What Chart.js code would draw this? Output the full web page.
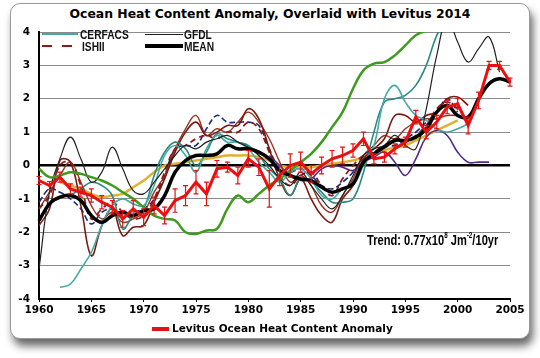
<!DOCTYPE html>
<html>
<head>
<meta charset="utf-8">
<script src="https://cdn.jsdelivr.net/npm/chart.js@4.4.0/dist/chart.umd.min.js"></script>
<style>
  html, body { margin: 0; padding: 0; background: #fff; }
  #wrap { position: relative; width: 540px; height: 358px; overflow: hidden; }
  #frame {
    position: absolute; left: 10px; top: 3px; width: 518px; height: 334px;
    background: #fff; border: 1px solid #9a9a9a; border-radius: 10px;
    box-shadow: 3px 7px 9px rgba(0,0,0,0.6);
  }
  #chart { position: absolute; left: 0; top: 0; }
  .title {
    position: absolute; left: 0; width: 540px; top: 6px; text-align: center;
    font: bold 12.4px "DejaVu Sans", sans-serif; color: #000;
  }
  .lg { position: absolute; font: bold 12px "Liberation Sans", Arial, sans-serif;
        transform: scaleX(0.85); transform-origin: left top; color: #111; line-height: 12px; }
  .sw { position: absolute; }
  .trend { position: absolute; left: 367px; top: 230px; white-space: nowrap;
           font: bold 15px "Liberation Sans", Arial, sans-serif; transform: scaleX(0.74);
           transform-origin: left top; color: #000; }
  .trend sup { font-size: 8.5px; vertical-align: 7px; }
  .bottom { position: absolute; left: 172px; top: 322px;
            font: bold 10.5px "DejaVu Sans", sans-serif; color: #000; }
</style>
</head>
<body>
<div id="wrap">
  <div id="frame"></div>
  <div class="title">Ocean Heat Content Anomaly, Overlaid with Levitus 2014</div>
  <canvas id="chart" width="540" height="358"></canvas>

  <div class="sw" style="left:42px;top:33px;width:36px;height:2px;background:#45aaa3"></div>
  <div class="lg" style="left:80px;top:29px">CERFACS</div>
  <div class="sw" style="left:145px;top:34px;width:38px;height:1px;background:#222"></div>
  <div class="lg" style="left:184px;top:29px">GFDL</div>
  <div class="sw" style="left:42px;top:45px;width:10px;height:2px;background:#8b1a1a"></div>
  <div class="sw" style="left:62px;top:45px;width:10px;height:2px;background:#8b1a1a"></div>
  <div class="lg" style="left:82px;top:41px">ISHII</div>
  <div class="sw" style="left:145px;top:44px;width:38px;height:4px;background:#000"></div>
  <div class="lg" style="left:184px;top:41px">MEAN</div>

  <div class="trend">Trend: 0.77x10<sup>8</sup> Jm<sup>-2</sup>/10yr</div>

  <div class="sw" style="left:152px;top:327px;width:17px;height:4px;background:#e81010"></div>
  <div class="bottom">Levitus Ocean Heat Content Anomaly</div>
</div>

<script>
const years = [1960,1961,1962,1963,1964,1965,1966,1967,1968,1969,
               1970,1971,1972,1973,1974,1975,1976,1977,1978,1979,
               1980,1981,1982,1983,1984,1985,1986,1987,1988,1989,
               1990,1991,1992,1993,1994,1995,1996,1997,1998,1999,
               2000,2001,2002,2003,2004,2005];

const yTicks = [-4,-3,-2,-1,0,1,2,3,4];

const levitus = [-0.45,-0.6,-0.35,-0.7,-0.8,-0.9,-1.1,-1.25,-1.6,-1.3,
                 -1.55,-1.2,-1.5,-1.05,-0.9,-0.5,-0.85,-0.1,-0.05,-0.3,
                 0.2,-0.05,-0.7,-0.3,0.0,0.1,-0.25,0.0,0.2,0.3,
                 0.45,0.8,0.2,0.25,0.5,0.7,1.45,1.0,1.3,1.75,
                 1.85,1.2,1.95,3.0,3.0,2.5];
const levitusErr = [0.12,0.12,0.15,0.15,0.15,0.2,0.2,0.2,0.25,0.25,
                    0.25,0.25,0.25,0.35,0.3,0.35,0.35,0.25,0.15,0.25,
                    0.25,0.25,0.55,0.3,0.35,0.3,0.25,0.25,0.25,0.25,
                    0.2,0.2,0.15,0.15,0.15,0.15,0.2,0.2,0.2,0.2,
                    0.15,0.25,0.25,0.12,0.12,0.12];

const mean = [-1.65,-1.15,-0.95,-0.9,-1.05,-1.5,-1.7,-1.5,-1.4,-1.5,
              -1.35,-1.3,-0.9,-0.2,0.15,0.3,0.3,0.35,0.6,0.5,
              0.5,0.4,0.2,-0.15,-0.3,-0.4,-0.45,-0.65,-0.8,-0.7,
              -0.55,0.1,0.35,0.55,0.75,0.75,0.85,1.1,1.6,1.8,
              1.5,1.45,2.0,2.45,2.6,2.5];

const gfdl = [-3.1,-0.8,0.2,0.85,0.2,-0.5,-0.2,0.55,-0.1,-0.75,
              -0.85,-0.5,-0.1,0.3,0.6,0.5,0.7,0.8,0.9,0.7,
              0.55,0.3,0.0,-0.4,-0.6,-0.2,-0.6,-1.0,-1.3,-0.9,
              -0.3,0.3,0.5,0.6,0.9,0.6,0.5,1.7,3.3,4.4,
              3.7,3.1,3.5,3.85,2.8,null];

const cerfacs = [null,null,-3.65,-3.55,-3.1,-2.6,-1.8,-1.2,-1.0,-1.15,
                 -1.2,-0.6,0.3,0.6,0.3,-0.2,0.5,0.9,0.7,0.7,
                 0.5,0.1,-0.2,-0.5,-0.2,-0.1,-0.4,-0.9,-1.0,-0.7,
                 -0.6,0.0,0.6,2.0,2.4,1.9,1.5,1.35,1.1,1.0,
                 1.1,1.25,null,null,null,null];

const tealDark = [null,null,null,-0.9,-0.7,-0.5,-0.6,-0.9,-1.9,-1.5,
                  -1.3,-0.3,0.4,0.7,0.5,0.0,0.4,0.95,0.8,0.7,
                  0.6,0.3,-0.1,-0.4,-0.9,-0.4,-0.5,-0.8,-1.1,-1.1,
                  -1.0,-0.2,1.0,1.9,2.0,2.1,2.4,3.0,3.9,4.4,
                  null,null,null,null,null,null];

const ishii = [-1.3,-0.9,0.0,0.1,-0.6,-1.6,-1.3,-1.1,-1.4,-1.6,
               -1.5,-1.0,-0.2,0.5,0.6,0.8,0.9,0.8,1.0,1.0,
               1.3,1.1,0.4,-0.3,-0.6,-0.3,-0.2,-0.6,-0.9,-0.4,
               0.0,0.3,0.4,0.6,0.8,0.7,0.9,1.2,1.7,1.9,
               1.7,1.3,null,null,null,null];

const brownA = [-1.8,-1.3,0.15,0.1,-1.2,-2.7,-1.8,-1.3,-2.1,-1.85,
                -1.8,-1.1,-0.4,0.4,1.0,1.3,0.9,1.0,1.2,1.2,
                1.7,1.4,0.5,-0.4,-0.9,-0.4,-1.0,-1.5,-1.7,-1.0,
                -0.6,0.2,0.5,0.8,1.5,1.5,1.3,1.5,1.6,2.0,
                2.05,1.8,null,null,null,null];

const brownB = [-1.3,-0.8,-0.3,0.1,-0.5,-1.2,-1.6,-1.4,-1.7,-1.6,
                -1.4,-0.8,-0.3,0.5,1.1,1.5,0.9,1.1,1.0,1.3,
                1.6,1.3,0.8,0.1,-0.5,-0.3,-0.6,-1.2,-1.4,-0.9,
                -0.4,0.3,0.6,0.9,0.8,1.1,1.3,1.4,1.4,1.5,
                1.5,null,null,null,null,null];

const navy = [-1.1,-0.7,-0.8,-1.0,-1.3,-1.75,-1.4,-1.3,-1.5,-1.4,
              -1.3,-1.0,-0.3,0.5,0.6,0.6,1.1,1.5,1.3,1.3,
              1.3,1.2,0.5,-0.1,-0.2,-0.1,-0.3,-0.6,-0.7,-0.5,
              -0.2,0.2,0.4,0.6,0.6,0.8,1.0,1.3,1.6,2.0,
              1.6,null,null,null,null,null];

const purple = [null,null,null,null,null,null,null,null,null,null,
                null,null,null,null,null,null,null,null,null,null,
                null,null,0.3,0.0,-0.3,-0.45,-0.4,-0.1,0.0,-0.05,
                -0.15,0.1,0.25,0.4,0.1,-0.3,0.2,0.85,1.05,0.9,
                0.4,0.1,0.1,0.1,null,null];

const green = [-0.1,-0.35,-0.3,-0.2,-0.25,-0.35,-0.45,-0.6,-0.8,-1.0,
               -1.25,-1.5,-1.6,-1.65,-2.0,-2.05,-1.95,-1.9,-1.3,-0.9,
               -1.1,-0.85,-0.6,-0.4,-0.15,0.1,0.35,0.7,1.15,1.6,
               2.3,2.85,3.05,3.1,3.3,3.6,3.9,4.05,null,null,
               null,null,null,null,null,null];

const gold = [null,null,-0.5,-0.6,-0.7,-0.85,-0.95,-0.9,-0.85,-0.65,
              -0.45,-0.2,0.0,0.05,0.1,0.15,0.2,0.25,0.3,0.3,
              0.3,0.25,0.15,0.0,-0.05,-0.05,-0.05,0.0,0.05,0.1,
              0.15,0.25,0.35,0.45,0.55,0.6,0.75,0.9,1.05,1.2,
              1.35,null,null,null,null,null];

function line(data, color, width, extra) {
  return Object.assign({
    data: data, borderColor: color, borderWidth: width,
    pointRadius: 0, tension: 0.4, fill: false, spanGaps: false
  }, extra || {});
}

const errorBars = {
  id: 'errorBars',
  afterDatasetsDraw(chart) {
    const ctx = chart.ctx;
    const y = chart.scales.y;
    const meta = chart.getDatasetMeta(0);
    ctx.save();
    ctx.strokeStyle = '#e81010';
    ctx.lineWidth = 1.2;
    meta.data.forEach((pt, i) => {
      const top = y.getPixelForValue(levitus[i] + levitusErr[i]);
      const bot = y.getPixelForValue(levitus[i] - levitusErr[i]);
      ctx.beginPath();
      ctx.moveTo(pt.x, top); ctx.lineTo(pt.x, bot);
      ctx.moveTo(pt.x - 2.5, top); ctx.lineTo(pt.x + 2.5, top);
      ctx.moveTo(pt.x - 2.5, bot); ctx.lineTo(pt.x + 2.5, bot);
      ctx.stroke();
    });
    ctx.restore();
  }
};

new Chart(document.getElementById('chart'), {
  type: 'line',
  data: {
    labels: years,
    datasets: [
      line(levitus, '#e81010', 3, { tension: 0, pointRadius: 1.5, pointStyle: 'rect',
                                    pointBackgroundColor: '#e81010', pointBorderWidth: 0 }),
      line(mean, '#000', 3.5),
      line(green, '#3f9b1e', 2.5),
      line(gfdl, '#222', 1.2),
      line(cerfacs, '#45aaa3', 1.6),
      line(tealDark, '#2a8a82', 1.6),
      line(ishii, '#8b1a1a', 1.8, { borderDash: [6, 4] }),
      line(brownA, '#7a1a10', 1.6),
      line(brownB, '#a03020', 1.4),
      line(navy, '#1c2a7a', 1.6, { borderDash: [6, 3] }),
      line(purple, '#55288a', 1.6),
      line(gold, '#e0b030', 2.5)
    ]
  },
  options: {
    responsive: false,
    animation: false,
    layout: { padding: { left: 0, right: 30, top: 32, bottom: 37 } },
    plugins: { legend: { display: false }, tooltip: { enabled: false } },
    scales: {
      x: {
        type: 'category',
        afterFit: (s) => { s.height = 22; },
        border: { display: true, color: '#000', width: 2 },
        grid: {
          drawOnChartArea: false, drawTicks: true, tickLength: 3,
          color: (c) => (years[c.index] % 5 === 0 ? '#000' : 'rgba(0,0,0,0)')
        },
        ticks: {
          autoSkip: false, maxRotation: 0, padding: 2, color: '#000',
          font: { family: 'DejaVu Sans', size: 10.5, weight: 'bold' },
          callback: (v, i) => (years[i] % 5 === 0 ? String(years[i]) : '')
        }
      },
      y: {
        min: -4, max: 4,
        afterFit: (s) => { s.width = 39; },
        afterBuildTicks: (s) => { s.ticks = yTicks.map(v => ({ value: v })); },
        border: { display: true, color: '#000', width: 2 },
        grid: {
          drawTicks: false,
          color: (c) => (c.tick && c.tick.value === 0 ? '#000' : '#8a8a8a'),
          lineWidth: (c) => (c.tick && c.tick.value === 0 ? 2.5 : 1)
        },
        ticks: {
          padding: 9, color: '#000',
          font: { family: 'DejaVu Sans', size: 10.5, weight: 'bold' }
        }
      }
    }
  },
  plugins: [errorBars]
});
</script>
</body>
</html>
